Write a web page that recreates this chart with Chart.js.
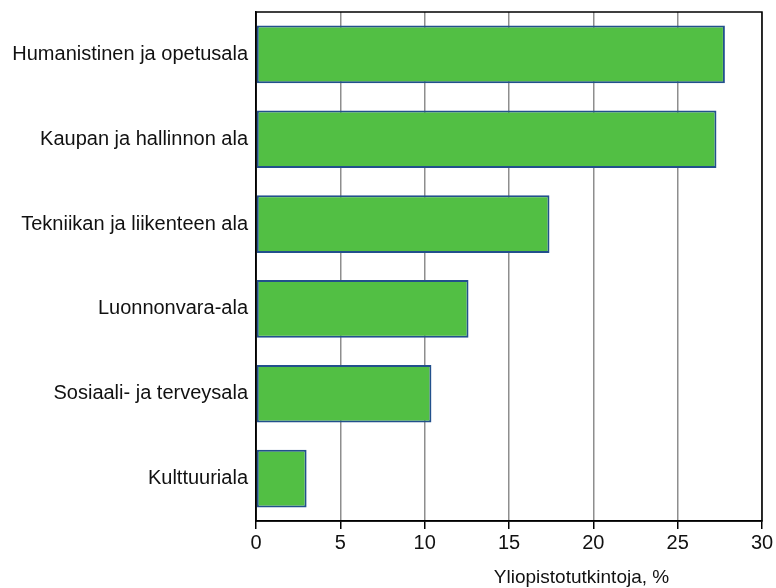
<!DOCTYPE html>
<html>
<head>
<meta charset="utf-8">
<script src="https://cdn.jsdelivr.net/npm/chart.js@4"></script>
<style>
  html, body { margin: 0; padding: 0; background: #fff; }
  #wrap { width: 776px; height: 588px; }
</style>
</head>
<body>
<div id="wrap"><canvas id="alatChart" width="776" height="588"></canvas></div>
<script>
// Koulutusalat ja osuudet (%)
const alat = [
  'Humanistinen ja opetusala',
  'Kaupan ja hallinnon ala',
  'Tekniikan ja liikenteen ala',
  'Luonnonvara-ala',
  'Sosiaali- ja terveysala',
  'Kulttuuriala'
];
const osuudet = [27.8, 27.3, 17.4, 12.6, 10.4, 3.0];
const xTicks = [0, 5, 10, 15, 20, 25, 30];
const akseliOtsikko = 'Yliopistotutkintoja, %';

const fontti = 'Liberation Sans';

// Kehys ja x-akselin otsikko piirretään itse
const kehys = {
  id: 'kehys',
  afterDraw(chart) {
    const { ctx, chartArea: a, scales } = chart;
    ctx.save();
    ctx.strokeStyle = '#000';
    ctx.lineWidth = 1.5;
    ctx.strokeRect(a.left, a.top, a.right - a.left, a.bottom - a.top);
    ctx.fillStyle = '#111';
    ctx.font = '19px "' + fontti + '"';
    ctx.textAlign = 'center';
    ctx.textBaseline = 'alphabetic';
    ctx.fillText(akseliOtsikko, scales.x.getPixelForValue(19.3), 583);
    ctx.restore();
  }
};

const ctx = document.getElementById('alatChart').getContext('2d');
new Chart(ctx, {
  type: 'bar',
  data: {
    labels: alat,
    datasets: [{
      data: osuudet,
      backgroundColor: '#52bf44',
      borderColor: '#22508c',
      borderWidth: 2,
      borderSkipped: false,
      categoryPercentage: 1,
      barPercentage: 0.68
    }]
  },
  options: {
    indexAxis: 'y',
    responsive: false,
    animation: false,
    layout: { padding: { top: 12, right: 14, left: 0, bottom: 0 } },
    plugins: { legend: { display: false }, tooltip: { enabled: false } },
    scales: {
      x: {
        min: 0,
        max: 30,
        afterBuildTicks(scale) { scale.ticks = xTicks.map(v => ({ value: v })); },
        afterFit(scale) { scale.height = 67; },
        grid: { color: '#8e8e8e', lineWidth: 1.5, tickColor: '#000', tickLength: 8 },
        border: { color: '#000', width: 1.5 },
        ticks: { color: '#111', font: { family: fontti, size: 20 }, padding: 2, maxRotation: 0 }
      },
      y: {
        afterFit(scale) {
          scale.width = 256;
          scale.paddingTop = 0;
          scale.paddingBottom = 0;
        },
        grid: { display: false, drawTicks: false },
        border: { color: '#000', width: 1.5 },
        ticks: { color: '#111', font: { family: fontti, size: 20 }, padding: 8 }
      }
    }
  },
  plugins: [kehys]
});
</script>
</body>
</html>
